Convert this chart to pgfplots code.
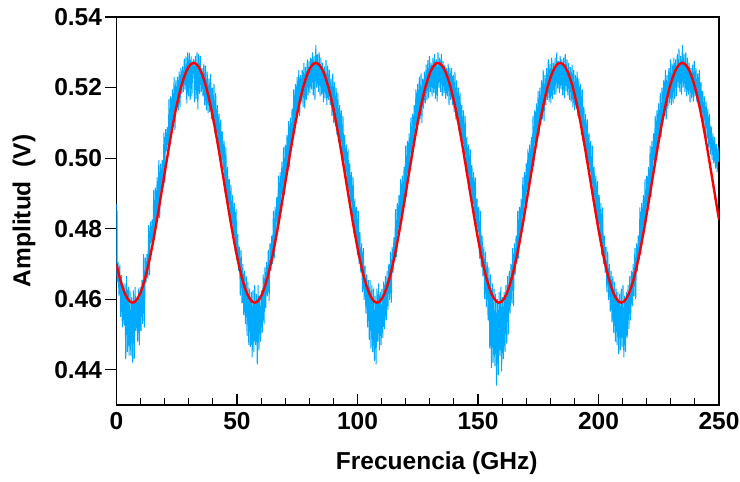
\documentclass[border=0pt]{standalone}
\usepackage{pgfplots}
\pgfplotsset{compat=1.18}
\usepackage{pgfplotstable}
\usepackage{fontspec}
\setmainfont{Liberation Sans}
\definecolor{sig}{RGB}{0,170,255}
\definecolor{fit}{RGB}{255,0,0}
\pgfplotstableread{
x y
0.00 .4870
0.10 .4668
0.21 .4850
0.31 .4648
0.66 .4705
1.02 .4610
1.37 .4698
1.72 .4550
2.08 .4668
2.43 .4520
2.78 .4640
3.13 .4525
3.48 .4645
3.83 .4430
4.19 .4665
4.54 .4450
4.89 .4635
5.24 .4440
5.59 .4625
5.94 .4440
6.30 .4605
6.65 .4420
7.00 .4625
7.36 .4430
7.71 .4635
8.06 .4510
8.41 .4605
8.76 .4480
9.11 .4630
9.47 .4470
9.82 .4635
10.17 .4510
10.53 .4655
10.88 .4530
11.23 .4728
11.58 .4520
11.93 .4718
12.28 .4648
12.64 .4728
12.99 .4658
13.34 .4810
13.69 .4668
14.04 .4820
14.39 .4758
14.75 .4826
15.10 .4762
15.45 .4910
15.81 .4768
16.16 .4916
16.51 .4810
16.86 .4946
17.21 .4840
17.56 .4994
17.92 .4830
18.27 .4984
18.62 .4908
18.98 .4994
19.33 .4918
19.68 .5072
20.03 .4928
20.38 .5082
20.73 .5020
21.09 .5088
21.44 .5025
21.79 .5168
22.14 .5032
22.49 .5175
22.84 .5070
23.20 .5195
23.55 .5090
23.90 .5230
24.26 .5080
24.61 .5220
24.96 .5140
25.31 .5230
25.66 .5135
26.01 .5245
26.37 .5145
26.72 .5255
27.07 .5183
27.43 .5260
27.78 .5188
28.13 .5282
28.48 .5194
28.83 .5288
29.18 .5155
29.54 .5300
29.89 .5175
30.24 .5298
30.59 .5165
30.94 .5288
31.29 .5175
31.65 .5270
32.00 .5280
32.35 .5158
32.71 .5290
33.06 .5168
33.41 .5300
33.76 .5138
34.11 .5295
34.46 .5182
34.82 .5290
35.17 .5188
35.52 .5255
35.88 .5175
36.23 .5268
36.58 .5150
36.93 .5262
37.28 .5135
37.63 .5245
37.99 .5128
38.34 .5225
38.69 .5130
39.04 .5238
39.39 .5110
39.74 .5200
40.10 .5098
40.45 .5210
40.80 .5070
41.16 .5185
41.51 .5055
41.86 .5150
42.21 .5040
42.56 .5125
42.91 .5005
43.27 .5110
43.62 .4982
43.97 .5075
44.33 .4965
44.68 .5048
45.03 .4900
45.38 .5030
45.73 .4874
46.08 .4975
46.44 .4860
46.79 .4940
47.14 .4820
47.49 .4925
47.84 .4796
48.19 .4895
48.55 .4780
48.90 .4872
49.25 .4735
49.61 .4855
49.96 .4710
50.31 .4785
50.66 .4680
51.01 .4748
51.36 .4610
51.72 .4740
52.07 .4588
52.42 .4700
52.78 .4555
53.13 .4680
53.48 .4530
53.83 .4665
54.18 .4495
54.53 .4650
54.89 .4470
55.24 .4630
55.59 .4465
55.94 .4620
56.29 .4435
56.64 .4625
57.00 .4450
57.35 .4640
57.70 .4470
58.06 .4615
58.41 .4415
58.76 .4640
59.11 .4455
59.46 .4610
59.81 .4480
60.17 .4625
60.52 .4505
60.87 .4670
61.23 .4530
61.58 .4690
61.93 .4575
62.28 .4705
62.63 .4608
62.98 .4740
63.34 .4595
63.69 .4758
64.04 .4680
64.39 .4780
64.74 .4700
65.09 .4850
65.45 .4715
65.80 .4862
66.15 .4780
66.51 .4890
66.86 .4806
67.21 .4950
67.56 .4815
67.91 .4960
68.26 .4860
68.62 .4990
68.97 .4884
69.32 .5030
69.68 .4895
70.03 .5038
70.38 .4945
70.73 .5065
71.08 .4962
71.43 .5105
71.79 .4975
72.14 .5115
72.49 .5030
72.84 .5140
73.19 .5055
73.54 .5195
73.90 .5070
74.25 .5210
74.60 .5115
74.96 .5230
75.31 .5130
75.66 .5250
76.01 .5120
76.36 .5235
76.71 .5160
77.07 .5250
77.42 .5145
77.77 .5270
78.13 .5140
78.48 .5258
78.83 .5165
79.18 .5280
79.53 .5178
79.88 .5275
80.24 .5185
80.59 .5285
80.94 .5195
81.29 .5300
81.64 .5178
81.99 .5290
82.35 .5165
82.70 .5320
83.05 .5200
83.41 .5295
83.76 .5188
84.11 .5300
84.46 .5175
84.81 .5285
85.16 .5180
85.52 .5270
85.87 .5158
86.22 .5260
86.58 .5170
86.93 .5278
87.28 .5150
87.63 .5262
87.98 .5165
88.33 .5250
88.69 .5150
89.04 .5225
89.39 .5120
89.74 .5240
90.09 .5100
90.44 .5215
90.80 .5090
91.15 .5200
91.50 .5065
91.86 .5185
92.21 .5045
92.56 .5150
92.91 .5035
93.26 .5135
93.61 .4995
93.97 .5120
94.32 .4972
94.67 .5065
95.03 .4960
95.38 .5038
95.73 .4910
96.08 .5025
96.43 .4894
96.78 .4985
97.14 .4875
97.49 .4960
97.84 .4810
98.19 .4945
98.54 .4786
98.89 .4885
99.25 .4770
99.60 .4862
99.95 .4725
100.31 .4850
100.66 .4700
101.01 .4790
101.36 .4675
101.71 .4758
102.06 .4620
102.42 .4745
102.77 .4598
103.12 .4695
103.48 .4560
103.83 .4670
104.18 .4520
104.53 .4655
104.88 .4485
105.23 .4655
105.59 .4460
105.94 .4640
106.29 .4450
106.64 .4630
106.99 .4425
107.34 .4610
107.70 .4415
108.05 .4630
108.40 .4480
108.76 .4645
109.11 .4455
109.46 .4620
109.81 .4470
110.16 .4630
110.51 .4490
110.87 .4650
111.22 .4515
111.57 .4665
111.93 .4540
112.28 .4680
112.63 .4570
112.98 .4700
113.33 .4598
113.68 .4735
114.04 .4590
114.39 .4748
114.74 .4675
115.09 .4775
115.44 .4710
115.79 .4855
116.15 .4720
116.50 .4872
116.85 .4785
117.21 .4895
117.56 .4806
117.91 .4940
118.26 .4815
118.61 .4950
118.96 .4855
119.32 .4975
119.67 .4874
120.02 .5035
120.38 .4890
120.73 .5048
121.08 .4950
121.43 .5070
121.78 .4972
122.13 .5115
122.49 .4985
122.84 .5125
123.19 .5040
123.54 .5150
123.89 .5065
124.24 .5195
124.60 .5075
124.95 .5210
125.30 .5095
125.66 .5230
126.01 .5110
126.36 .5240
126.71 .5100
127.06 .5225
127.41 .5140
127.77 .5245
128.12 .5155
128.47 .5265
128.83 .5165
129.18 .5278
129.53 .5170
129.88 .5290
130.23 .5188
130.58 .5270
130.94 .5175
131.29 .5285
131.64 .5185
131.99 .5295
132.34 .5168
132.69 .5280
133.05 .5160
133.40 .5300
133.75 .5200
134.11 .5285
134.46 .5188
134.81 .5295
135.16 .5175
135.51 .5275
135.86 .5185
136.22 .5265
136.57 .5168
136.92 .5255
137.28 .5175
137.63 .5268
137.98 .5150
138.33 .5255
138.68 .5165
139.03 .5255
139.39 .5150
139.74 .5235
140.09 .5130
140.44 .5245
140.79 .5110
141.14 .5220
141.50 .5100
141.85 .5200
142.20 .5075
142.56 .5185
142.91 .5055
143.26 .5150
143.61 .5040
143.96 .5135
144.31 .4990
144.67 .5120
145.02 .4962
145.37 .5060
145.73 .4950
146.08 .5038
146.43 .4905
146.78 .5025
147.13 .4884
147.48 .4980
147.84 .4870
148.19 .4960
148.54 .4825
148.89 .4945
149.24 .4806
149.59 .4885
149.95 .4790
150.30 .4862
150.65 .4715
151.01 .4850
151.36 .4690
151.71 .4780
152.06 .4665
152.41 .4748
152.76 .4600
153.12 .4735
153.47 .4578
153.82 .4705
154.18 .4540
154.53 .4690
154.88 .4460
155.23 .4670
155.58 .4405
155.93 .4645
156.29 .4420
156.64 .4630
156.99 .4410
157.34 .4615
157.69 .4355
158.04 .4600
158.40 .4385
158.75 .4620
159.10 .4440
159.46 .4635
159.81 .4395
160.16 .4605
160.51 .4430
160.86 .4620
161.21 .4450
161.57 .4640
161.92 .4475
162.27 .4665
162.63 .4500
162.98 .4680
163.33 .4560
163.68 .4700
164.03 .4588
164.38 .4745
164.74 .4580
165.09 .4758
165.44 .4670
165.79 .4780
166.14 .4700
166.49 .4850
166.85 .4715
167.20 .4862
167.55 .4775
167.91 .4885
168.26 .4796
168.61 .4945
168.96 .4810
169.31 .4960
169.66 .4870
170.02 .4985
170.37 .4894
170.72 .5025
171.08 .4905
171.43 .5038
171.78 .4945
172.13 .5060
172.48 .4962
172.83 .5120
173.19 .4975
173.54 .5135
173.89 .5035
174.24 .5155
174.59 .5055
174.94 .5190
175.30 .5065
175.65 .5200
176.00 .5095
176.36 .5220
176.71 .5110
177.06 .5250
177.41 .5105
177.76 .5235
178.11 .5150
178.47 .5255
178.82 .5165
179.17 .5280
179.53 .5160
179.88 .5268
180.23 .5155
180.58 .5285
180.93 .5168
181.28 .5270
181.64 .5180
181.99 .5285
182.34 .5180
182.69 .5300
183.04 .5198
183.39 .5275
183.75 .5185
184.10 .5290
184.45 .5195
184.81 .5280
185.16 .5178
185.51 .5285
185.86 .5170
186.21 .5295
186.56 .5190
186.92 .5280
187.27 .5178
187.62 .5270
187.98 .5165
188.33 .5258
188.68 .5160
189.03 .5265
189.38 .5145
189.73 .5250
190.09 .5135
190.44 .5235
190.79 .5140
191.14 .5245
191.49 .5120
191.84 .5225
192.20 .5105
192.55 .5210
192.90 .5065
193.26 .5195
193.61 .5045
193.96 .5145
194.31 .5030
194.66 .5125
195.01 .4995
195.37 .5110
195.72 .4972
196.07 .5070
196.43 .4960
196.78 .5048
197.13 .4900
197.48 .5035
197.83 .4874
198.18 .4975
198.54 .4860
198.89 .4950
199.24 .4815
199.59 .4935
199.94 .4796
200.29 .4895
200.65 .4780
201.00 .4872
201.35 .4725
201.71 .4860
202.06 .4700
202.41 .4780
202.76 .4675
203.11 .4748
203.46 .4620
203.82 .4735
204.17 .4598
204.52 .4700
204.88 .4565
205.23 .4680
205.58 .4535
205.93 .4665
206.28 .4505
206.63 .4650
206.99 .4480
207.34 .4630
207.69 .4470
208.04 .4620
208.39 .4445
208.74 .4615
209.10 .4455
209.45 .4630
209.80 .4465
210.16 .4640
210.51 .4435
210.86 .4610
211.21 .4450
211.56 .4620
211.91 .4490
212.27 .4640
212.62 .4515
212.97 .4665
213.33 .4540
213.68 .4680
214.03 .4580
214.38 .4700
214.73 .4608
215.08 .4745
215.44 .4600
215.79 .4758
216.14 .4680
216.49 .4780
216.84 .4710
217.19 .4860
217.55 .4725
217.90 .4872
218.25 .4775
218.61 .4895
218.96 .4796
219.31 .4940
219.66 .4810
220.01 .4950
220.36 .4855
220.72 .4975
221.07 .4874
221.42 .5035
221.78 .4890
222.13 .5048
222.48 .4955
222.83 .5070
223.18 .4982
223.53 .5120
223.89 .4995
224.24 .5135
224.59 .5030
224.94 .5155
225.29 .5045
225.64 .5185
226.00 .5060
226.35 .5200
226.70 .5100
227.06 .5220
227.41 .5120
227.76 .5250
228.11 .5110
228.46 .5235
228.81 .5140
229.17 .5255
229.52 .5155
229.87 .5280
230.23 .5150
230.58 .5268
230.93 .5155
231.28 .5285
231.63 .5168
231.98 .5280
232.34 .5175
232.69 .5295
233.04 .5200
233.39 .5310
233.74 .5188
234.09 .5290
234.45 .5180
234.80 .5320
235.15 .5200
235.51 .5295
235.86 .5188
236.21 .5300
236.56 .5175
236.91 .5285
237.26 .5180
237.62 .5270
237.97 .5158
238.32 .5255
238.68 .5170
239.03 .5265
239.38 .5160
239.73 .5275
240.08 .5175
240.43 .5255
240.79 .5160
241.14 .5240
241.49 .5150
241.84 .5250
242.19 .5130
242.54 .5215
242.90 .5120
243.25 .5190
243.60 .5090
243.96 .5175
244.31 .5070
244.66 .5160
245.01 .5055
245.36 .5140
245.71 .5030
246.07 .5125
246.42 .5010
246.77 .5090
247.13 .4995
247.48 .5070
247.83 .4985
248.18 .5060
248.53 .4970
248.88 .5040
249.24 .4960
249.59 .5030
250.00 .4990
}\bluetable
\pgfplotstableread{
x y
0.00 .4699
0.31 .4690
1.37 .4660
2.43 .4636
3.48 .4616
4.54 .4602
5.59 .4593
6.65 .4590
7.71 .4593
8.76 .4602
9.82 .4616
10.88 .4636
11.93 .4660
12.99 .4690
14.04 .4723
15.10 .4760
16.16 .4800
17.21 .4842
18.27 .4886
19.33 .4930
20.38 .4974
21.44 .5018
22.49 .5060
23.55 .5100
24.61 .5137
25.66 .5170
26.72 .5200
27.78 .5224
28.83 .5244
29.89 .5258
30.94 .5267
32.00 .5270
33.06 .5267
34.11 .5258
35.17 .5244
36.23 .5224
37.28 .5200
38.34 .5170
39.39 .5137
40.45 .5100
41.51 .5060
42.56 .5018
43.62 .4974
44.68 .4930
45.73 .4886
46.79 .4842
47.84 .4800
48.90 .4760
49.96 .4723
51.01 .4690
52.07 .4660
53.13 .4636
54.18 .4616
55.24 .4602
56.29 .4593
57.35 .4590
58.41 .4593
59.46 .4602
60.52 .4616
61.58 .4636
62.63 .4660
63.69 .4690
64.74 .4723
65.80 .4760
66.86 .4800
67.91 .4842
68.97 .4886
70.03 .4930
71.08 .4974
72.14 .5018
73.19 .5060
74.25 .5100
75.31 .5137
76.36 .5170
77.42 .5200
78.48 .5224
79.53 .5244
80.59 .5258
81.64 .5267
82.70 .5270
83.76 .5267
84.81 .5258
85.87 .5244
86.93 .5224
87.98 .5200
89.04 .5170
90.09 .5137
91.15 .5100
92.21 .5060
93.26 .5018
94.32 .4974
95.38 .4930
96.43 .4886
97.49 .4842
98.54 .4800
99.60 .4760
100.66 .4723
101.71 .4690
102.77 .4660
103.83 .4636
104.88 .4616
105.94 .4602
106.99 .4593
108.05 .4590
109.11 .4593
110.16 .4602
111.22 .4616
112.28 .4636
113.33 .4660
114.39 .4690
115.44 .4723
116.50 .4760
117.56 .4800
118.61 .4842
119.67 .4886
120.73 .4930
121.78 .4974
122.84 .5018
123.89 .5060
124.95 .5100
126.01 .5137
127.06 .5170
128.12 .5200
129.18 .5224
130.23 .5244
131.29 .5258
132.34 .5267
133.40 .5270
134.46 .5267
135.51 .5258
136.57 .5244
137.63 .5224
138.68 .5200
139.74 .5170
140.79 .5137
141.85 .5100
142.91 .5060
143.96 .5018
145.02 .4974
146.08 .4930
147.13 .4886
148.19 .4842
149.24 .4800
150.30 .4760
151.36 .4723
152.41 .4690
153.47 .4660
154.53 .4636
155.58 .4616
156.64 .4602
157.69 .4593
158.75 .4590
159.81 .4593
160.86 .4602
161.92 .4616
162.98 .4636
164.03 .4660
165.09 .4690
166.14 .4723
167.20 .4760
168.26 .4800
169.31 .4842
170.37 .4886
171.43 .4930
172.48 .4974
173.54 .5018
174.59 .5060
175.65 .5100
176.71 .5137
177.76 .5170
178.82 .5200
179.88 .5224
180.93 .5244
181.99 .5258
183.04 .5267
184.10 .5270
185.16 .5267
186.21 .5258
187.27 .5244
188.33 .5224
189.38 .5200
190.44 .5170
191.49 .5137
192.55 .5100
193.61 .5060
194.66 .5018
195.72 .4974
196.78 .4930
197.83 .4886
198.89 .4842
199.94 .4800
201.00 .4760
202.06 .4723
203.11 .4690
204.17 .4660
205.23 .4636
206.28 .4616
207.34 .4602
208.39 .4593
209.45 .4590
210.51 .4593
211.56 .4602
212.62 .4616
213.68 .4636
214.73 .4660
215.79 .4690
216.84 .4723
217.90 .4760
218.96 .4800
220.01 .4842
221.07 .4886
222.13 .4930
223.18 .4974
224.24 .5018
225.29 .5060
226.35 .5100
227.41 .5137
228.46 .5170
229.52 .5200
230.58 .5224
231.63 .5244
232.69 .5258
233.74 .5267
234.80 .5270
235.86 .5267
236.91 .5258
237.97 .5244
239.03 .5224
240.08 .5200
241.14 .5170
242.19 .5137
243.25 .5100
244.31 .5060
245.36 .5018
246.42 .4974
247.48 .4930
248.53 .4886
249.59 .4842
250.00 .4826
}\redtable
\begin{document}
\begin{tikzpicture}
\begin{axis}[
  scale only axis,
  width=602.5bp, height=388bp,
  xmin=0, xmax=250, ymin=0.430, ymax=0.540,
  axis line style={line width=1.2pt, black},
  xtick={0,50,100,150,200,250},
  minor x tick num=4,
  ytick={0.44,0.46,0.48,0.50,0.52,0.54},
  xtick pos=bottom, ytick pos=left,
  xtick align=inside, ytick align=outside,
  major tick length=11bp, minor tick length=7bp,
  every tick/.style={black, line width=1.1pt},
  tick label style={font=\fontsize{24.5bp}{24.5bp}\selectfont\bfseries},
  xticklabel style={yshift=-4bp},
  /pgf/number format/assume math mode=true,
  yticklabel style={/pgf/number format/fixed, /pgf/number format/fixed zerofill, /pgf/number format/precision=2},
  xlabel={Frecuencia (GHz)},
  ylabel={Amplitud\ \ (V)},
  label style={font=\fontsize{24.5bp}{24.5bp}\selectfont\bfseries},
  xlabel style={at={(axis description cs:0.5315,-0.1495)}, anchor=center},
  ylabel style={at={(axis description cs:-0.1535,0.5)}, anchor=center},
  clip=true,
]
\addplot[sig, line width=1.0pt, line join=bevel] table[x=x, y=y] {\bluetable};
\addplot[fit, line width=2.4pt] table[x=x, y=y] {\redtable};
\end{axis}
\pgfresetboundingbox
\path[use as bounding box] ([shift={(-116.5bp,-77bp)}]current axis.south west) rectangle ([shift={(21bp,17bp)}]current axis.north east);
\end{tikzpicture}
\end{document}
